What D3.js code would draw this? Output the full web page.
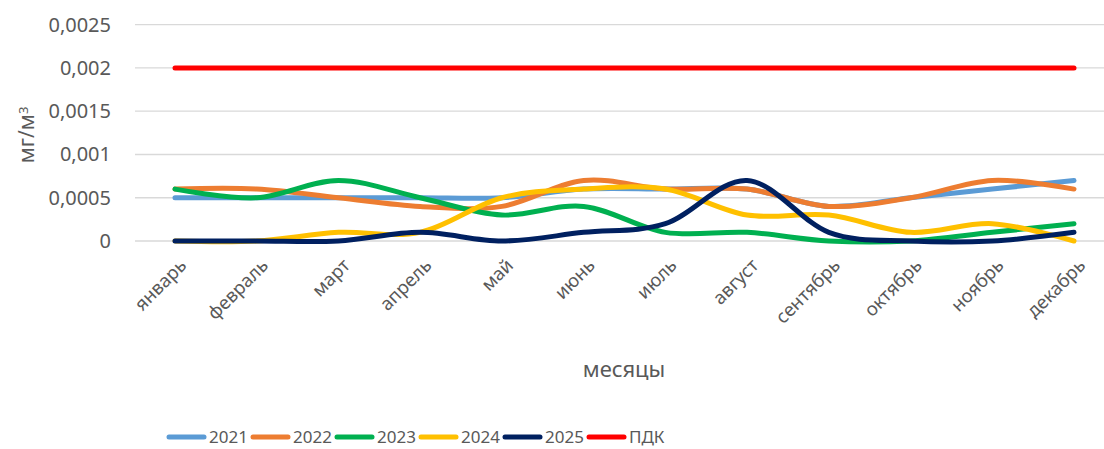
<!DOCTYPE html>
<html>
<head>
<meta charset="utf-8">
<script src="https://cdn.jsdelivr.net/npm/d3@7"></script>
<style>
  body { margin: 0; background: #fff; }
  text { font-family: "Noto Sans", "Open Sans", sans-serif; fill: #595959; }
</style>
</head>
<body>
<div id="chart"></div>
<script>
// months on the x axis
var months = ["январь", "февраль", "март", "апрель", "май", "июнь", "июль", "август", "сентябрь", "октябрь", "ноябрь", "декабрь"];

// values in мг/м3
var y2021 = [0.0005, 0.0005, 0.0005, 0.0005, 0.0005, 0.0006, 0.0006, 0.0006, 0.0004, 0.0005, 0.0006, 0.0007];
var y2022 = [0.0006, 0.0006, 0.0005, 0.0004, 0.0004, 0.0007, 0.0006, 0.0006, 0.0004, 0.0005, 0.0007, 0.0006];
var y2023 = [0.0006, 0.0005, 0.0007, 0.0005, 0.0003, 0.0004, 0.0001, 0.0001, 0.0000, 0.0000, 0.0001, 0.0002];
var y2024 = [0.0000, 0.0000, 0.0001, 0.0001, 0.0005, 0.0006, 0.0006, 0.0003, 0.0003, 0.0001, 0.0002, 0.0000];
var y2025 = [0.0000, 0.0000, 0.0000, 0.0001, 0.0000, 0.0001, 0.0002, 0.0007, 0.0001, 0.0000, 0.0000, 0.0001];
var pdk   = [0.002, 0.002, 0.002, 0.002, 0.002, 0.002, 0.002, 0.002, 0.002, 0.002, 0.002, 0.002];

var seriesNames = ["2021", "2022", "2023", "2024", "2025", "ПДК"];
var seriesValues = [y2021, y2022, y2023, y2024, y2025, pdk];
var colors = ["#5B9BD5", "#ED7D31", "#00B050", "#FFC000", "#002060", "#FF0000"];

var yTicks = [0, 0.0005, 0.001, 0.0015, 0.002, 0.0025];

var width = 1104, height = 449;

var svg = d3.select("#chart")
    .append("svg")
    .attr("width", width)
    .attr("height", height);

var x = d3.scalePoint()
    .domain(months)
    .range([175, 1074]);

var y = d3.scaleLinear()
    .domain([0, 0.0025])
    .range([241, 24.7]);

var fmt = function (d) { return String(d).replace(".", ","); };

// gridlines
svg.append("g")
    .selectAll("line")
    .data(yTicks)
    .enter()
    .append("line")
    .attr("x1", 135)
    .attr("x2", 1104)
    .attr("y1", function (d) { return y(d); })
    .attr("y2", function (d) { return y(d); })
    .attr("stroke", "#d9d9d9")
    .attr("stroke-width", 1.3);

// y tick labels
svg.append("g")
    .selectAll("text")
    .data(yTicks)
    .enter()
    .append("text")
    .attr("x", 111)
    .attr("y", function (d) { return y(d); })
    .attr("dy", "0.35em")
    .attr("text-anchor", "end")
    .style("font-size", "20px")
    .text(fmt);

// x tick labels, rotated
svg.append("g")
    .selectAll("text")
    .data(months)
    .enter()
    .append("text")
    .attr("transform", function (d) { return "translate(" + (x(d) + 8) + ",262) rotate(-45)"; })
    .attr("text-anchor", "end")
    .attr("dy", "0.35em")
    .style("font-size", "18.5px")
    .text(function (d) { return d; });

// axis titles
var yTitle = svg.append("text")
    .attr("transform", "translate(27,135) rotate(-90)")
    .attr("text-anchor", "middle")
    .attr("dy", "0.35em")
    .style("font-size", "21px");
yTitle.append("tspan").text("мг/м");
yTitle.append("tspan").attr("dy", "-0.5em").style("font-size", "13px").text("3");

svg.append("text")
    .attr("x", 624)
    .attr("y", 369)
    .attr("text-anchor", "middle")
    .attr("dy", "0.35em")
    .style("font-size", "22px")
    .text("месяцы");

// lines
var line = d3.line()
    .x(function (d, i) { return x(months[i]); })
    .y(function (d) { return y(d); })
    .curve(d3.curveCatmullRom.alpha(0));

svg.append("g")
    .selectAll("path")
    .data(seriesValues)
    .enter()
    .append("path")
    .attr("d", function (d) { return line(d); })
    .attr("fill", "none")
    .attr("stroke", function (d, i) { return colors[i]; })
    .attr("stroke-width", 5)
    .attr("stroke-linecap", "round")
    .attr("stroke-linejoin", "round");

// legend
var legend = svg.append("g")
    .selectAll("g")
    .data(seriesNames)
    .enter()
    .append("g")
    .attr("transform", function (d, i) { return "translate(" + (169 + i * 84) + ",437)"; });

legend.append("line")
    .attr("x1", 0)
    .attr("x2", 35)
    .attr("stroke", function (d, i) { return colors[i]; })
    .attr("stroke-width", 5)
    .attr("stroke-linecap", "round");

legend.append("text")
    .attr("x", 40)
    .attr("dy", "0.35em")
    .style("font-size", "17px")
    .text(function (d) { return d; });
</script>
</body>
</html>
